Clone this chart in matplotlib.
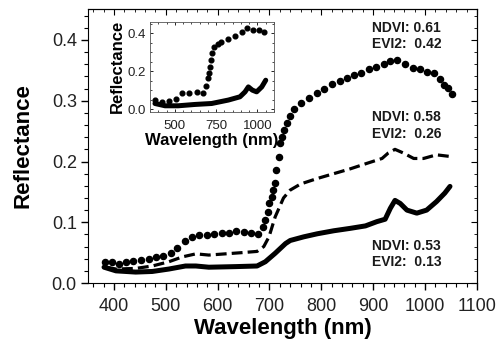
import matplotlib
matplotlib.use("Agg")
import matplotlib.pyplot as plt
from matplotlib.ticker import MultipleLocator, FormatStrFormatter

plt.rcParams['font.family'] = ['Liberation Sans', 'DejaVu Sans']

# main panel, dotted sample (NDVI 0.61)
wl_dot = [383, 396, 410, 423, 436, 452, 467, 481, 495, 510, 522, 537, 551, 565, 580,
          593, 609, 622, 636, 651, 665, 678, 688, 692, 697, 700, 704, 707, 710, 713,
          718, 721, 724, 727, 733, 739, 747, 761, 776, 792, 806, 821, 835, 849, 863,
          877, 891, 906, 920, 933, 946, 962, 976, 990, 1004, 1017, 1029, 1037, 1045, 1051]
r_dot = [0.034, 0.034, 0.031, 0.034, 0.036, 0.038, 0.040, 0.042, 0.045, 0.050, 0.057,
         0.069, 0.075, 0.079, 0.079, 0.081, 0.083, 0.083, 0.085, 0.084, 0.082, 0.081,
         0.093, 0.104, 0.117, 0.131, 0.142, 0.153, 0.164, 0.186, 0.208, 0.230, 0.241,
         0.252, 0.264, 0.275, 0.286, 0.297, 0.304, 0.312, 0.319, 0.328, 0.333, 0.337,
         0.343, 0.346, 0.352, 0.356, 0.361, 0.366, 0.367, 0.361, 0.354, 0.352, 0.348,
         0.345, 0.336, 0.326, 0.321, 0.311]

# main panel, dashed sample (NDVI 0.58)
wl_dash = [385, 404, 442, 474, 506, 532, 558, 583, 615, 647, 676, 689, 699, 711, 727,
           740, 760, 792, 824, 856, 888, 917, 929, 942, 958, 978, 997, 1022, 1051]
r_dash = [0.026, 0.023, 0.024, 0.028, 0.035, 0.043, 0.048, 0.046, 0.048, 0.050, 0.052,
          0.060, 0.076, 0.109, 0.140, 0.153, 0.163, 0.172, 0.180, 0.188, 0.197, 0.205,
          0.214, 0.220, 0.214, 0.205, 0.205, 0.211, 0.208]

# main panel, solid sample (NDVI 0.53)
wl_solid = [381, 404, 442, 474, 506, 538, 558, 583, 635, 676, 692, 711, 731, 740, 766,
            792, 824, 856, 885, 907, 923, 933, 942, 952, 965, 984, 1003, 1022, 1038, 1048]
r_solid = [0.026, 0.020, 0.018, 0.019, 0.023, 0.028, 0.028, 0.026, 0.027, 0.028, 0.035,
           0.049, 0.065, 0.070, 0.076, 0.081, 0.086, 0.090, 0.094, 0.101, 0.105, 0.123,
           0.136, 0.131, 0.120, 0.115, 0.120, 0.134, 0.148, 0.159]

labels = ["NDVI: 0.61\nEVI2:  0.42", "NDVI: 0.58\nEVI2:  0.26", "NDVI: 0.53\nEVI2:  0.13"]
label_y = [0.432, 0.284, 0.073]

# inset samples
wl_in_dot = [380, 424, 465, 505, 545, 588, 632, 672, 689, 699, 707, 713, 719, 727, 739,
             759, 779, 824, 864, 905, 939, 975, 1008, 1038]
r_in_dot = [0.049, 0.040, 0.043, 0.057, 0.087, 0.087, 0.092, 0.087, 0.122, 0.162, 0.193,
            0.222, 0.257, 0.297, 0.327, 0.345, 0.353, 0.371, 0.384, 0.405, 0.426, 0.414,
            0.414, 0.405]
wl_in_solid = [380, 441, 521, 622, 723, 824, 894, 925, 945, 969, 995, 1026, 1050]
r_in_solid = [0.031, 0.019, 0.019, 0.026, 0.031, 0.049, 0.066, 0.092, 0.118, 0.101,
              0.092, 0.118, 0.153]

fig = plt.figure(figsize=(5.01, 3.44), dpi=100)
ax = fig.add_axes([0.1756, 0.1773, 0.7764, 0.7965])

ax.plot(wl_dot, r_dot, linestyle='none', marker='o', markersize=4.4, color='black')
ax.plot(wl_dash, r_dash, color='black', linewidth=2.3, dashes=(3.4, 1.6))
ax.plot(wl_solid, r_solid, color='black', linewidth=3.6, solid_capstyle='round',
        solid_joinstyle='round')

for txt, y in zip(labels, label_y):
    ax.text(898, y, txt, fontsize=10, fontweight='bold', va='top', ha='left',
            linespacing=1.25, color='#1a1a1a')

ax.set_xlim(350, 1100)
ax.set_ylim(0, 0.451)
ax.xaxis.set_major_locator(MultipleLocator(100))
ax.xaxis.set_minor_locator(MultipleLocator(20))
ax.yaxis.set_major_locator(MultipleLocator(0.1))
ax.yaxis.set_minor_locator(MultipleLocator(0.02))
ax.yaxis.set_major_formatter(FormatStrFormatter('%.1f'))
ax.tick_params(which='major', direction='out', length=5, width=1, labelsize=13, pad=3,
               labelcolor='#222222')
ax.tick_params(which='minor', direction='out', length=3, width=0.8)
ax.tick_params(axis='x', which='major', pad=6)

# mirrored inward ticks on top and right
top = ax.secondary_xaxis('top')
top.xaxis.set_major_locator(MultipleLocator(100))
top.xaxis.set_minor_locator(MultipleLocator(20))
top.tick_params(which='major', direction='in', length=4, labeltop=False)
top.tick_params(which='minor', direction='in', length=2.5)
right = ax.secondary_yaxis('right')
right.yaxis.set_major_locator(MultipleLocator(0.1))
right.yaxis.set_minor_locator(MultipleLocator(0.02))
right.tick_params(which='major', direction='in', length=4, labelright=False)
right.tick_params(which='minor', direction='in', length=2.5)

ax.set_xlabel('Wavelength (nm)', fontsize=16, fontweight='bold', labelpad=2)
ax.set_ylabel('Reflectance', fontsize=16, fontweight='bold', labelpad=13)

# inset
ins = fig.add_axes([0.2994, 0.6753, 0.2475, 0.2607])
ins.plot(wl_in_dot, r_in_dot, linestyle='none', marker='o', markersize=3.4, color='black')
ins.plot(wl_in_solid, r_in_solid, color='black', linewidth=3.6, solid_capstyle='round',
         solid_joinstyle='round')
ins.set_xlim(350, 1100)
ins.set_ylim(-0.012, 0.458)
ins.xaxis.set_major_locator(MultipleLocator(250))
ins.xaxis.set_minor_locator(MultipleLocator(50))
ins.yaxis.set_major_locator(MultipleLocator(0.2))
ins.yaxis.set_minor_locator(MultipleLocator(0.05))
ins.yaxis.set_major_formatter(FormatStrFormatter('%.1f'))
ins.tick_params(which='both', direction='in', top=True, right=True, labelsize=9.5, pad=3,
                labelcolor='#222222')
ins.tick_params(which='major', length=2.5, width=0.6)
ins.tick_params(which='minor', length=1.5, width=0.5)
ins.tick_params(axis='x', which='major', pad=6)
for s in ins.spines.values():
    s.set_linewidth(0.6)
    s.set_color('#555555')
ins.set_xlabel('Wavelength (nm)', fontsize=12, fontweight='bold', labelpad=1)
ins.set_ylabel('Reflectance', fontsize=12, fontweight='bold', labelpad=2)

fig.savefig('out.png', dpi=100)
